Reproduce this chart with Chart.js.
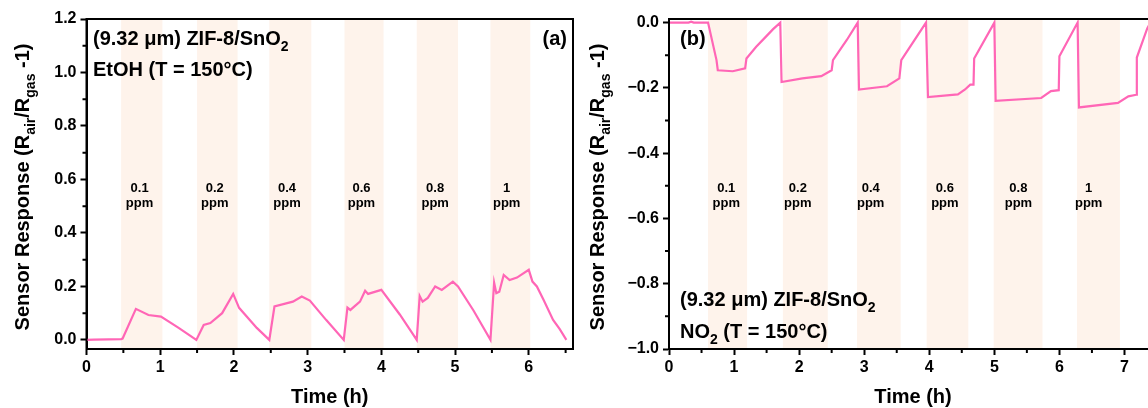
<!DOCTYPE html>
<html>
<head>
<meta charset="utf-8">
<script src="https://cdn.jsdelivr.net/npm/chart.js@4/dist/chart.umd.min.js"></script>
<style>
html, body { margin: 0; padding: 0; background: #fff; overflow: hidden; }
#wrap { position: relative; width: 1148px; height: 408px; overflow: hidden; }
#chartA { position: absolute; left: 0; top: 0; }
#chartB { position: absolute; left: 580px; top: 0; }
</style>
</head>
<body>
<div id="wrap">
  <canvas id="chartA" width="580" height="408"></canvas>
  <canvas id="chartB" width="580" height="408"></canvas>
</div>
<script>
/* dades llegides de la figura */
const timeA = [0, 0.1, 0.3, 0.47, 0.49, 0.67, 0.84, 1.01, 1.25, 1.49, 1.59, 1.68, 1.84, 1.99, 2.07, 2.31, 2.48,
  2.55, 2.8, 2.92, 3.03, 3.25, 3.49, 3.54, 3.58, 3.71, 3.78, 3.82, 4.0, 4.25, 4.48, 4.52, 4.56, 4.63, 4.73,
  4.82, 4.97, 5.04, 5.25, 5.48, 5.53, 5.56, 5.6, 5.66, 5.74, 5.84, 6.0, 6.05, 6.11, 6.2, 6.33, 6.42, 6.51]
const respA = [0, 0.001, 0.002, 0.003, 0.005, 0.116, 0.093, 0.087, 0.045, 0.0, 0.056, 0.063, 0.10, 0.172, 0.12, 0.045, 0.0,
  0.125, 0.143, 0.162, 0.147, 0.075, 0.0, 0.121, 0.112, 0.143, 0.184, 0.172, 0.187, 0.095, 0.0, 0.164, 0.143, 0.157, 0.2,
  0.187, 0.218, 0.2, 0.11, 0.0, 0.214, 0.175, 0.18, 0.243, 0.224, 0.233, 0.262, 0.218, 0.2, 0.15, 0.075, 0.04, 0.0]

const timeB = [0, 0.3, 0.34, 0.38, 0.6, 0.73, 0.75, 0.98, 1.17, 1.19, 1.34, 1.49, 1.6, 1.71, 1.73, 2.05, 2.34, 2.5,
  2.52, 2.73, 2.9, 2.92, 3.35, 3.54, 3.57, 3.95, 3.98, 4.44, 4.55, 4.63, 4.68, 4.69, 5.0, 5.02, 5.72, 5.87, 5.99,
  6.0, 6.28, 6.3, 6.9, 7.06, 7.18, 7.19, 7.35, 7.4]
const respB = [0, 0, 0.003, 0, 0, -0.115, -0.146, -0.149, -0.14, -0.11, -0.074, -0.043, -0.02, 0, -0.182, -0.171, -0.164, -0.146,
  -0.115, -0.054, 0, -0.205, -0.195, -0.171, -0.115, 0, -0.228, -0.22, -0.205, -0.19, -0.19, -0.11, 0, -0.24, -0.231, -0.21, -0.207,
  -0.103, 0, -0.26, -0.246, -0.226, -0.221, -0.107, -0.018, 0]

const concLabels = ['0.1', '0.2', '0.4', '0.6', '0.8', '1']
const bandStartA = [0.47, 1.5, 2.48, 3.5, 4.48, 5.48]
const bandEndA = [1.03, 2.05, 3.05, 4.03, 5.04, 6.02]
const concXA = [0.72, 1.74, 2.72, 3.73, 4.73, 5.7]
const bandStartB = [0.6, 1.75, 2.89, 3.96, 4.99, 6.27]
const bandEndB = [1.2, 2.44, 3.56, 4.6, 5.74, 6.93]
const concXB = [0.88, 1.98, 3.1, 4.24, 5.37, 6.45]

const xTicksA = [0, 1, 2, 3, 4, 5, 6]
const yTicksA = [0, 0.2, 0.4, 0.6, 0.8, 1.0, 1.2]
const xTicksB = [0, 1, 2, 3, 4, 5, 6, 7]
const yTicksB = [0, -0.2, -0.4, -0.6, -0.8, -1.0]

const FONT = "'Liberation Sans', Arial, sans-serif"
Chart.defaults.color = '#000'
Chart.defaults.font.family = FONT
Chart.defaults.font.weight = 'bold'
Chart.defaults.font.size = 16

const yTitle = [{t: 'Sensor Response (R'}, {t: 'air', sub: true}, {t: '/R'}, {t: 'gas', sub: true}, {t: ' -1)'}]

/* text amb subindexs */
const drawRich = (ctx, parts, x, y, size, align) => {
    const big = `bold ${size}px ${FONT}`
    const small = `bold ${Math.round(size * 0.68)}px ${FONT}`
    let w = 0
    parts.forEach(p => { ctx.font = p.sub ? small : big; w += ctx.measureText(p.t).width })
    let cx = align === 'center' ? x - w / 2 : align === 'right' ? x - w : x
    ctx.textAlign = 'left'
    ctx.textBaseline = 'alphabetic'
    parts.forEach(p => {
        ctx.font = p.sub ? small : big
        ctx.fillText(p.t, cx, p.sub ? y + size * 0.3 : y)
        cx += ctx.measureText(p.t).width
    })
}

const decoPlugin = {
    id: 'deco',
    beforeDatasetsDraw(chart, args, o) {
        const {ctx, chartArea: a, scales: {x}} = chart
        ctx.save()
        ctx.fillStyle = '#fef3eb'
        o.bandStart.forEach((s, i) => {
            const x0 = x.getPixelForValue(s)
            const x1 = x.getPixelForValue(o.bandEnd[i])
            ctx.fillRect(x0, a.top, x1 - x0, a.bottom - a.top)
        })
        ctx.fillStyle = '#000'
        ctx.font = `bold 13px ${FONT}`
        ctx.textAlign = 'center'
        ctx.textBaseline = 'alphabetic'
        o.concX.forEach((v, i) => {
            const px = x.getPixelForValue(v)
            ctx.fillText(concLabels[i], px, 192)
            ctx.fillText('ppm', px, 207)
        })
        ctx.restore()
    },
    afterDraw(chart, args, o) {
        const {ctx, chartArea: a, scales: {x, y}} = chart
        ctx.save()
        ctx.strokeStyle = '#000'
        ctx.lineWidth = 2
        ctx.strokeRect(a.left, a.top, a.right - a.left, a.bottom - a.top)
        // ticks menors
        ctx.beginPath()
        for (let v = x.min + o.xMinor; v < x.max; v += o.xMinor * 2) {
            const px = x.getPixelForValue(v)
            ctx.moveTo(px, a.bottom); ctx.lineTo(px, a.bottom + 4)
        }
        for (let i = 0; i < o.yTicks.length - 1; i++) {
            const py = y.getPixelForValue((o.yTicks[i] + o.yTicks[i + 1]) / 2)
            ctx.moveTo(a.left - 4, py); ctx.lineTo(a.left, py)
        }
        ctx.stroke()
        ctx.fillStyle = '#000'
        o.texts.forEach(t => drawRich(ctx, t.parts, t.x, t.y, 20, t.align || 'left'))
        // titols dels eixos
        drawRich(ctx, [{t: 'Time (h)'}], (a.left + a.right) / 2, 403, 20, 'center')
        ctx.translate(o.yTitleX, (a.top + a.bottom) / 2 + 3)
        ctx.rotate(-Math.PI / 2)
        drawRich(ctx, yTitle, 0, 0, 20, 'center')
        ctx.restore()
    }
}

const makeScales = (xMin, xMax, yMin, yMax, xTicks, yTicks, yWidth) => ({
    x: {
        type: 'linear', min: xMin, max: xMax,
        afterBuildTicks: s => { s.ticks = xTicks.map(v => ({value: v})) },
        ticks: {callback: v => String(v), padding: 3, maxRotation: 0, autoSkip: false},
        grid: {drawOnChartArea: false, tickLength: 6, tickWidth: 2, tickColor: '#000'},
        border: {color: '#000', width: 2},
        afterFit: s => { s.height = 59 }
    },
    y: {
        type: 'linear', min: yMin, max: yMax,
        afterBuildTicks: s => { s.ticks = yTicks.map(v => ({value: v})) },
        ticks: {callback: v => v.toFixed(1).replace('-', '\u2212'), padding: 4, autoSkip: false},
        grid: {drawOnChartArea: false, tickLength: 6, tickWidth: 2, tickColor: '#000'},
        border: {color: '#000', width: 2},
        afterFit: s => { s.width = yWidth }
    }
})

const renderChartA = () => {
    const data = {
        datasets: [{
            data: timeA.map((t, i) => ({x: t, y: respA[i]})),
            borderColor: '#ff66b6',
            borderWidth: 2.2,
            pointRadius: 0,
            tension: 0
        }]
    }
    const options = {
        responsive: false,
        animation: false,
        layout: {padding: {top: 19, right: 7, left: 0, bottom: 0}},
        scales: makeScales(0, 6.6, -0.034, 1.2, xTicksA, yTicksA, 86.5),
        plugins: {
            legend: {display: false},
            tooltip: {enabled: false},
            deco: {
                bandStart: bandStartA, bandEnd: bandEndA, concX: concXA,
                xMinor: 0.5, yTicks: yTicksA, yTitleX: 29,
                texts: [
                    {parts: [{t: '(9.32 \u03bcm) ZIF-8/SnO'}, {t: '2', sub: true}], x: 93, y: 45},
                    {parts: [{t: 'EtOH (T = 150\u00b0C)'}], x: 93, y: 76},
                    {parts: [{t: '(a)'}], x: 567, y: 45, align: 'right'}
                ]
            }
        }
    }
    new Chart('chartA', {type: 'line', data, options, plugins: [decoPlugin]})
}

const renderChartB = () => {
    const data = {
        datasets: [{
            data: timeB.map((t, i) => ({x: t, y: respB[i]})),
            borderColor: '#ff66b6',
            borderWidth: 2.2,
            pointRadius: 0,
            tension: 0
        }]
    }
    const options = {
        responsive: false,
        animation: false,
        layout: {padding: {top: 19, right: 3, left: 0, bottom: 0}},
        scales: makeScales(0, 7.5, -1.0, 0.011, xTicksB, yTicksB, 89),
        plugins: {
            legend: {display: false},
            tooltip: {enabled: false},
            deco: {
                bandStart: bandStartB, bandEnd: bandEndB, concX: concXB,
                xMinor: 0.5, yTicks: yTicksB, yTitleX: 24,
                texts: [
                    {parts: [{t: '(b)'}], x: 100, y: 45},
                    {parts: [{t: '(9.32 \u03bcm) ZIF-8/SnO'}, {t: '2', sub: true}], x: 100, y: 306},
                    {parts: [{t: 'NO'}, {t: '2', sub: true}, {t: ' (T = 150\u00b0C)'}], x: 100, y: 338}
                ]
            }
        }
    }
    new Chart('chartB', {type: 'line', data, options, plugins: [decoPlugin]})
}

const printCharts = () => {
    renderChartA()
    renderChartB()
}

printCharts()
</script>
</body>
</html>
